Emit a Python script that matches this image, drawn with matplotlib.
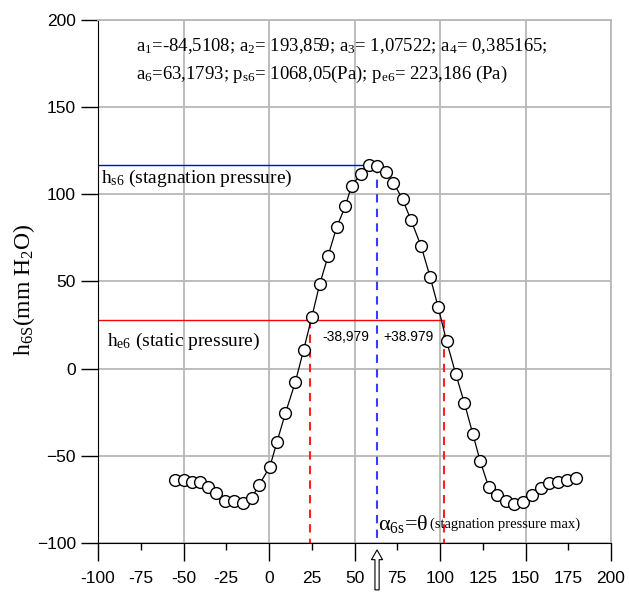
import numpy as np
import matplotlib
matplotlib.use("Agg")
import matplotlib.pyplot as plt
from matplotlib.ticker import MultipleLocator, FormatStrFormatter

angle = [-55, -50, -45.2, -40.3, -35.9, -30.9, -25.5, -20.4, -15, -10.1, -6, 0.5,
         4.6, 9.6, 15.4, 20.2, 25.1, 29.6, 34.5, 39.5, 44.6, 48.3, 53.6, 58.4, 63.2,
         68.5, 72.8, 78.1, 83.1, 89, 94.2, 98.9, 103.8, 109.2, 114.3, 119.2, 123.4,
         128.5, 133.6, 138.6, 143.5, 148.8, 153.6, 158.9, 163.9, 169.2, 174, 179.4]
h6s = [-63.6, -63.6, -65.1, -65.3, -67.6, -71.4, -76.0, -76.0, -77.1, -74.1, -67.0, -56.3,
       -42.2, -25.5, -7.7, 10.6, 29.9, 48.3, 64.5, 81.0, 93.1, 105.0, 111.4, 117.0, 116.5,
       112.6, 106.7, 97.1, 85.1, 70.1, 52.7, 35.4, 15.9, -3.0, -19.9, -37.5, -52.7,
       -68.0, -72.6, -76.0, -77.5, -76.5, -72.2, -68.5, -65.7, -65.1, -63.6, -62.8]

a6 = 63.1793
half_width = 38.979
h_stag = 117.0
h_static = 27.7

plt.rcParams['font.family'] = ['Liberation Sans', 'DejaVu Sans']
plt.rcParams['mathtext.default'] = 'regular'
serif = ['Liberation Serif', 'DejaVu Serif']

fig = plt.figure(figsize=(6.29, 5.92), dpi=100)
ax = fig.add_axes([0.1558, 0.0828, 0.8156, 0.8834])

ax.set_xlim(-100, 200)
ax.set_ylim(-100, 200)

# grid, major only
ax.xaxis.set_major_locator(MultipleLocator(50))
ax.xaxis.set_minor_locator(MultipleLocator(25))
ax.yaxis.set_major_locator(MultipleLocator(50))
ax.xaxis.set_major_formatter(FormatStrFormatter('%d'))
ax.xaxis.set_minor_formatter(FormatStrFormatter('%d'))
ax.grid(True, which='major', color='#b8b8b8', lw=1.3, zorder=0)
ax.set_axisbelow(True)

for s in ['top', 'right']:
    ax.spines[s].set_color('#b8b8b8')
    ax.spines[s].set_linewidth(1.3)
ax.tick_params(axis='y', which='major', direction='out', length=12, width=1,
               labelsize=12.5, pad=4)
ax.tick_params(axis='x', which='major', direction='out', length=13, width=1,
               labelsize=12.5, pad=7)
ax.tick_params(axis='x', which='minor', direction='out', length=5, width=1,
               labelsize=12.5, pad=15)

# reference lines
ax.plot([-100, a6], [h_stag, h_stag], color='#0000ff', lw=1, zorder=2)
ax.plot([a6, a6], [h_stag, -100], color='#3b3bff', lw=1.5, ls=(0, (4, 3)), zorder=2)
ax.plot([-100, a6 + half_width], [h_static, h_static], color='#ff0000', lw=1, zorder=2)
ax.plot([a6 - half_width, a6 - half_width], [h_static, -100], color='#ff2020', lw=1.5,
        ls=(0, (4, 3)), zorder=2)
ax.plot([a6 + half_width, a6 + half_width], [h_static, -100], color='#ff2020', lw=1.5,
        ls=(0, (4, 3)), zorder=2)

ax.plot(angle, h6s, color='black', lw=0.9, marker='o', markersize=8.5,
        markerfacecolor='white', markeredgecolor='black', markeredgewidth=1, zorder=3)

ax.set_ylabel(r'h$_{6S}$(mm H$_{2}$O)', family=serif, fontsize=17)
ax.yaxis.set_label_coords(-0.118, 0.484)

ax.text(-77.7, 185, r'a$_{1}$=-84,5108; a$_{2}$= 193,859; a$_{3}$= 1,07522; a$_{4}$= 0,385165;',
        family=serif, fontsize=13.5, va='center', ha='left')
ax.text(-77.7, 169, r'a$_{6}$=63,1793; p$_{s6}$= 1068,05(Pa); p$_{e6}$= 223,186 (Pa)',
        family=serif, fontsize=13.5, va='center', ha='left')
ax.text(-98, 109, r'h$_{s6}$ (stagnation pressure)', family=serif, fontsize=14,
        va='center', ha='left')
ax.text(-95, 15.5, r'h$_{e6}$ (static pressure)', family=serif, fontsize=14,
        va='center', ha='left')
ax.text(31, 18, '-38,979', fontsize=10, va='center', ha='left')
ax.text(67, 18, '+38.979', fontsize=10, va='center', ha='left')
ax.text(63.5, -89, r'$\alpha_{6s}$=$\theta$', family=serif, fontsize=16,
        va='center', ha='left')
ax.text(94, -89, '(stagnation pressure max)', family=serif, fontsize=10.5,
        va='center', ha='left')

# hollow arrow under the axis pointing at the maximum
ax.annotate('', xy=(a6, -0.008), xycoords=('data', 'axes fraction'),
            xytext=(a6, -0.095), textcoords=('data', 'axes fraction'),
            arrowprops=dict(arrowstyle='simple,head_width=0.8,head_length=0.7,tail_width=0.3',
                            fc='white', ec='black', lw=0.8),
            annotation_clip=False)

fig.savefig('out.png', dpi=100)
